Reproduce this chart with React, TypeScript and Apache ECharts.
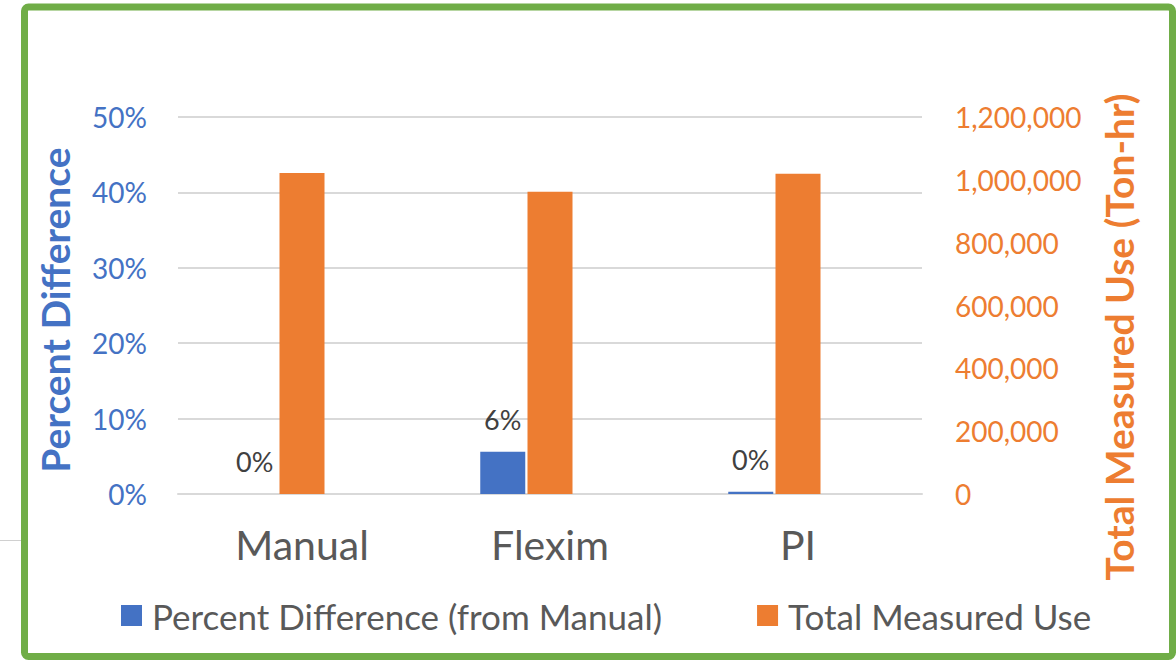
import React, { useEffect, useRef } from "react";
import * as echarts from "echarts";

const categories = ["Manual", "Flexim", "PI"];
const percentDifference = [0, 0.056, 0.003];
const totalMeasuredUse = [1022000, 962000, 1019000];
const percentTicks = { min: 0, max: 0.5, interval: 0.1 };
const useTicks = { min: 0, max: 1200000, interval: 200000 };
const seriesNames = ["Percent Difference (from Manual)", "Total Measured Use"];
const axisTitles = ["Percent Difference", "Total Measured Use (Ton-hr)"];

const FONT = 'Lato, "Noto Sans", sans-serif';
const BLUE = "#4472C4";
const ORANGE = "#ED7D31";

export default function App() {
  const ref = useRef<HTMLDivElement>(null);
  useEffect(() => {
    if (!ref.current) return;
    const chart = echarts.init(ref.current, undefined, { renderer: "svg" });
    chart.setOption({
      animation: false,
      backgroundColor: "#ffffff",
      textStyle: { fontFamily: FONT },
      grid: { left: 178, right: 254, top: 117, bottom: 166 },
      legend: {
        data: seriesNames,
        left: 116,
        top: 593,
        itemWidth: 21,
        itemHeight: 21,
        itemGap: 95,
        icon: "rect",
        textStyle: { fontSize: 35, color: "#595959", fontFamily: FONT, padding: [0, 0, 0, 5] },
      },
      xAxis: {
        type: "category",
        data: categories,
        axisLine: { lineStyle: { color: "#D9D9D9", width: 2 } },
        axisTick: { show: false },
        axisLabel: { fontSize: 41, color: "#595959", margin: 30, fontFamily: FONT },
      },
      yAxis: [
        {
          type: "value",
          position: "left",
          ...percentTicks,
          axisLine: { show: false },
          axisTick: { show: false },
          splitLine: { lineStyle: { color: "#D9D9D9", width: 2 } },
          axisLabel: {
            fontSize: 28,
            color: BLUE,
            margin: 31,
            fontFamily: FONT,
            formatter: (v: number) => Math.round(v * 100) + "%",
          },
        },
        {
          type: "value",
          position: "right",
          ...useTicks,
          axisLine: { show: false },
          axisTick: { show: false },
          splitLine: { show: false },
          axisLabel: {
            fontSize: 28,
            color: ORANGE,
            margin: 33,
            fontFamily: FONT,
            formatter: (v: number) => v.toLocaleString("en-US"),
          },
        },
      ],
      series: [
        {
          name: seriesNames[0],
          type: "bar",
          yAxisIndex: 0,
          data: percentDifference,
          barWidth: 45,
          barGap: "5%",
          itemStyle: { color: BLUE },
          label: {
            show: true,
            position: "top",
            distance: 19,
            fontSize: 27,
            color: "#404040",
            fontFamily: FONT,
            formatter: (p: any) => Math.round(p.value * 100) + "%",
          },
        },
        {
          name: seriesNames[1],
          type: "bar",
          yAxisIndex: 1,
          data: totalMeasuredUse,
          barWidth: 45,
          barGap: "5%",
          itemStyle: { color: ORANGE },
        },
        {
          name: "spacer",
          type: "bar",
          yAxisIndex: 1,
          data: [null, null, null],
          barWidth: 45,
          barGap: "5%",
          silent: true,
        },
      ],
      graphic: [
        {
          type: "rect",
          shape: { x: 24.5, y: 7, width: 1148, height: 649.5, r: 4 },
          style: { fill: "none", stroke: "#70AD47", lineWidth: 7 },
          silent: true,
        },
        {
          type: "line",
          shape: { x1: 0, y1: 540.5, x2: 21, y2: 540.5 },
          style: { stroke: "#D0D0D0", lineWidth: 1 },
          silent: true,
        },
        {
          type: "text",
          x: 55,
          y: 310,
          rotation: Math.PI / 2,
          style: {
            text: axisTitles[0],
            fill: BLUE,
            font: `bold 39px ${FONT}`,
            textAlign: "center",
            textVerticalAlign: "middle",
          },
        },
        {
          type: "text",
          x: 1119,
          y: 337,
          rotation: Math.PI / 2,
          style: {
            text: axisTitles[1],
            fill: ORANGE,
            font: `bold 39px ${FONT}`,
            textAlign: "center",
            textVerticalAlign: "middle",
          },
        },
      ],
    });
    return () => chart.dispose();
  }, []);
  return (
    <div
      ref={ref}
      style={{ position: "fixed", left: 0, top: 0, width: 1176, height: 660, background: "#fff" }}
    />
  );
}
